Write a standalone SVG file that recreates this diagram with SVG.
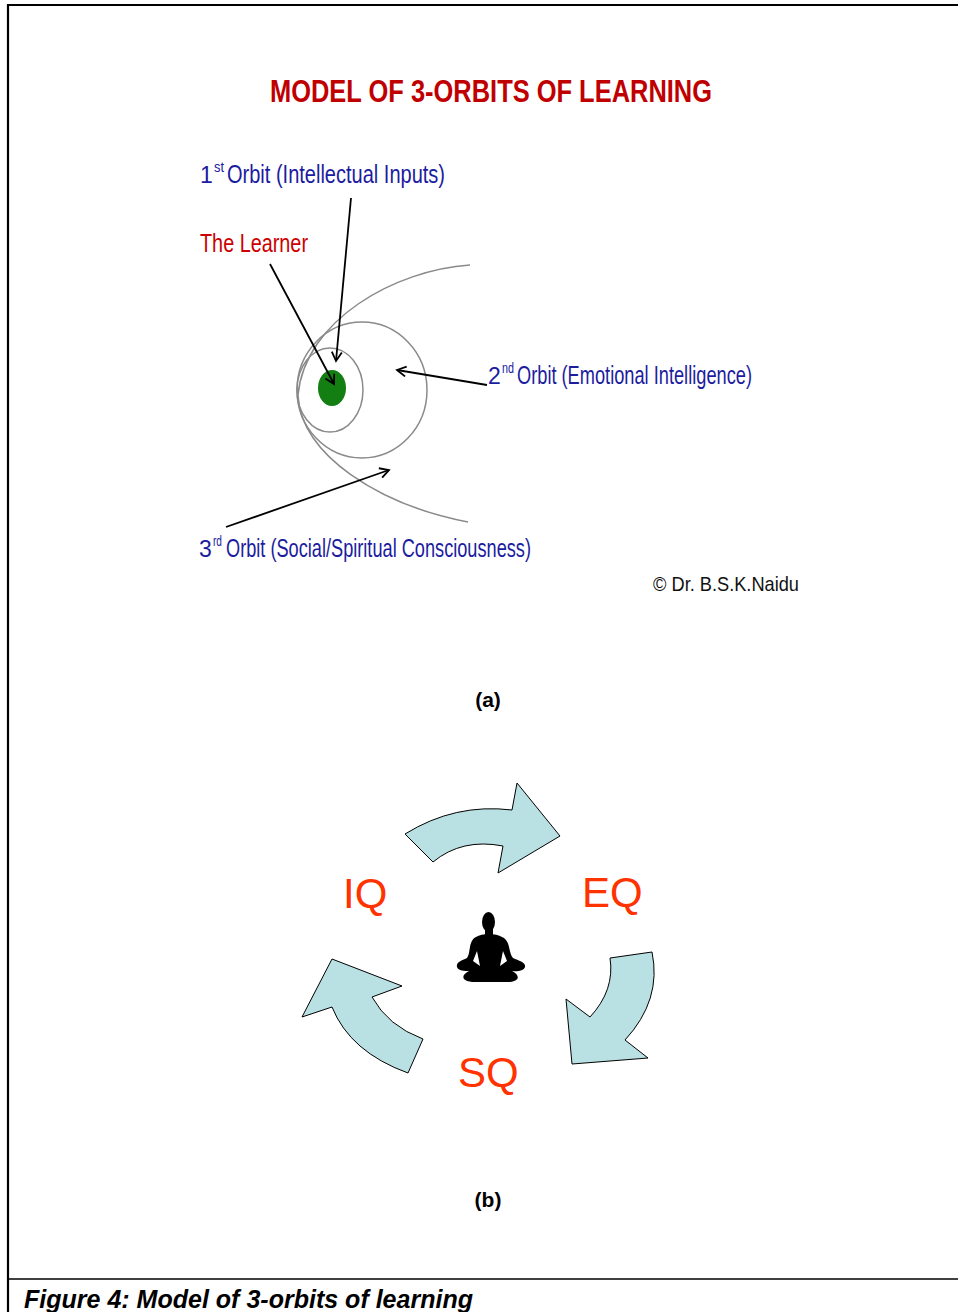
<svg xmlns="http://www.w3.org/2000/svg" width="958" height="1312" viewBox="0 0 958 1312">
<style>
.blue{font-family:"Liberation Sans Narrow","Arial Narrow","Liberation Sans",Arial,sans-serif;fill:#1c1ca0;font-size:25px}
.dig{font-family:"Liberation Sans Narrow","Arial Narrow","Liberation Sans",Arial,sans-serif;fill:#1c1ca0;font-size:23px}
.sup{font-family:"Liberation Sans Narrow","Arial Narrow","Liberation Sans",Arial,sans-serif;fill:#1c1ca0;font-size:14px}
.red{font-family:"Liberation Sans Narrow","Arial Narrow","Liberation Sans",Arial,sans-serif;fill:#cc0000;font-size:25px}
.q{font-family:"Liberation Sans",Arial,sans-serif;fill:#ff3300;font-size:42px}
.lab{font-family:"Liberation Sans",Arial,sans-serif;font-weight:bold;font-size:21px;fill:#000}
.orb{fill:none;stroke:#8a8a8a;stroke-width:1.5}
.ptr{fill:none;stroke:#000;stroke-width:1.8;marker-end:url(#ah)}
.cyc{fill:#b9e0e3;stroke:#000;stroke-width:1}
</style>
<defs>
<marker id="ah" markerWidth="12" markerHeight="12" refX="10" refY="6" orient="auto" markerUnits="userSpaceOnUse">
<path d="M1,1 L10,6 L1,11" fill="none" stroke="#000" stroke-width="1.8"/>
</marker>
<filter id="soft" x="-10%" y="-10%" width="120%" height="120%"><feGaussianBlur stdDeviation="0.7"/></filter>
</defs>
<rect width="958" height="1312" fill="#fff"/>
<g id="frame" stroke="#000" fill="none">
<line x1="8" y1="5" x2="958" y2="5" stroke-width="2.2"/>
<line x1="8" y1="4" x2="8" y2="1312" stroke-width="2.2"/>
<line x1="8" y1="1279" x2="958" y2="1279" stroke-width="1.5"/>
</g>
<g id="title">
<text x="270" y="102" font-family="'Liberation Sans Narrow','Arial Narrow','Liberation Sans',Arial,sans-serif" font-weight="bold" font-size="32" fill="#c00000" textLength="442" lengthAdjust="spacingAndGlyphs">MODEL OF 3-ORBITS OF LEARNING</text>
</g>
<g id="orbits">
<ellipse class="orb" cx="330" cy="390" rx="33" ry="42"/>
<ellipse class="orb" cx="362" cy="390" rx="65" ry="68"/>
<path class="orb" d="M470,265 C395,270 305,320 298,395 C300,455 380,505 468,522"/>
</g>
<g id="learner">
<ellipse cx="332" cy="388" rx="14" ry="18" fill="#137f13"/>
</g>
<g id="connectors">
<line class="ptr" x1="270" y1="264" x2="334" y2="384"/>
<line class="ptr" x1="351" y1="198" x2="336" y2="361"/>
<line class="ptr" x1="487" y1="385" x2="397" y2="370"/>
<line class="ptr" x1="226" y1="527" x2="389" y2="470"/>
</g>
<g id="label-1st">
<text class="dig" x="200" y="183">1</text>
<text class="sup" x="214" y="172" textLength="10" lengthAdjust="spacingAndGlyphs">st</text>
<text class="blue" x="227" y="183" textLength="218" lengthAdjust="spacingAndGlyphs">Orbit (Intellectual Inputs)</text>
</g>
<g id="label-learner"><text class="red" x="200" y="252" textLength="108" lengthAdjust="spacingAndGlyphs">The Learner</text></g>
<g id="label-2nd">
<text class="dig" x="488" y="384">2</text>
<text class="sup" x="502" y="373" textLength="12" lengthAdjust="spacingAndGlyphs">nd</text>
<text class="blue" x="517" y="384" textLength="235" lengthAdjust="spacingAndGlyphs">Orbit (Emotional Intelligence)</text>
</g>
<g id="label-3rd">
<text class="dig" x="199" y="557">3</text>
<text class="sup" x="213" y="546" textLength="9" lengthAdjust="spacingAndGlyphs">rd</text>
<text class="blue" x="226" y="557" textLength="305" lengthAdjust="spacingAndGlyphs">Orbit (Social/Spiritual Consciousness)</text>
</g>
<g id="copyright"><text x="653" y="591" font-family="'Liberation Sans Narrow','Arial Narrow','Liberation Sans',Arial,sans-serif" font-size="21" fill="#111" textLength="146" lengthAdjust="spacingAndGlyphs">© Dr. B.S.K.Naidu</text></g>
<g id="caption-a"><text class="lab" x="488" y="707" text-anchor="middle">(a)</text></g>
<g id="cycle-arrows">
<path id="arrow-top" class="cyc" d="M405,834 Q455,803 512,810 L517,783 L560,836 L498,873 L503,846 Q462,838 433,862 Z"/>
<path id="arrow-right" class="cyc" d="M610,958 L652,952 Q662,1000 625,1040 L648,1058 L572,1064 L566,999 L590,1017 Q615,990 610,958 Z"/>
<path id="arrow-left" class="cyc" d="M302,1017 L332,959 L402,986 L372,997 Q388,1026 423,1039 L408,1073 Q350,1052 332,1007 Z"/>
</g>
<g id="node-iq"><text class="q" x="343" y="908">IQ</text></g>
<g id="node-eq"><text class="q" x="582" y="907">EQ</text></g>
<g id="node-sq"><text class="q" x="458" y="1087">SQ</text></g>
<g id="meditator" filter="url(#soft)" fill="#000">
<ellipse cx="488.5" cy="922" rx="6.5" ry="10"/>
<rect x="485" y="928" width="8" height="10"/>
<path d="M476,937 C468,941 471,953 467,958 C461,961 456,962 457,967 C458,971 465,971 469,971 C461,975 461,981 472,982 L510,982 C520,981 520,975 512,971 C516,972 524,971 525,967 C526,962 519,961 513,958 C508,952 511,941 502,937 C496,933 482,933 476,937 Z"/>
</g>
<g id="meditator-gaps" fill="#fff">
<path d="M473,961 L477,951 L480,966 Z"/>
<path d="M507,961 L503,951 L500,966 Z"/>
</g>
<g id="caption-b"><text class="lab" x="488" y="1207" text-anchor="middle">(b)</text></g>
<g id="figure-caption"><text x="24" y="1308" font-family="'Liberation Sans Narrow','Arial Narrow','Liberation Sans',Arial,sans-serif" font-weight="bold" font-style="italic" font-size="25" fill="#000" textLength="449" lengthAdjust="spacingAndGlyphs">Figure 4: Model of 3-orbits of learning</text></g>
</svg>
